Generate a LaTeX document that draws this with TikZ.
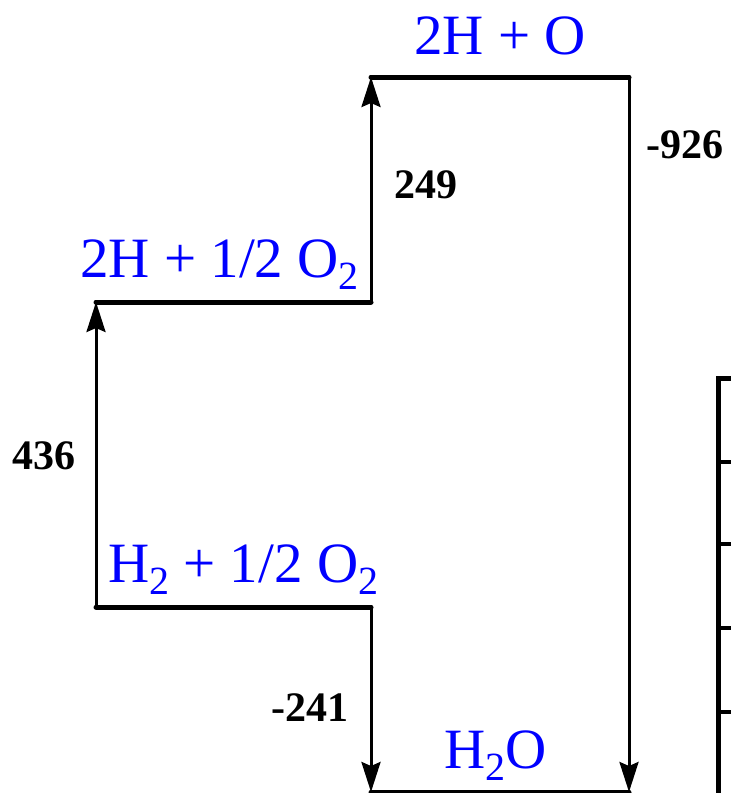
\documentclass[tikz,border=0pt]{standalone}
\usepackage{fontspec}
\setmainfont{Liberation Serif}
\usetikzlibrary{arrows.meta}
\newcommand\subtwo[1]{\raisebox{-12pt}{\fontsize{40}{40}\selectfont #1}}
\tikzset{
  level/.style={line width=5pt, line cap=round},
  trans/.style={line width=3pt, -{Stealth[length=30pt,width=19pt,inset=4pt]}},
  species/.style={text=blue, inner sep=0pt, anchor=base west, font=\fontsize{57}{57}\selectfont},
  energy/.style={inner sep=0pt, font=\bfseries\fontsize{42}{42}\selectfont},
  axisline/.style={line width=5pt},
  tick/.style={line width=4pt}
}
\begin{document}
\begin{tikzpicture}[x=1pt,y=-1pt]
\useasboundingbox (0,0) rectangle (731,793);
% level coordinates
\coordinate (A1) at (96,607);
\coordinate (A2) at (371,607);
\coordinate (B1) at (96,302);
\coordinate (B2) at (371,302);
\coordinate (C1) at (371,77);
\coordinate (C2) at (629,77);
\coordinate (D1) at (371,792);
\coordinate (D2) at (629,792);
% levels
\draw[level] (A1) -- (A2);
\draw[level] (B1) -- (B2);
\draw[level] (C1) -- (C2);
\draw[level] (D1) -- (D2);
% transitions
\draw[trans] (A1) -- (B1);
\draw[trans] (B2) -- (C1);
\draw[trans] (A2) -- (D1);
\draw[trans] (C2) -- (D2);
% species labels
\node[species] (sC) at (414,54) {2H + O};
\node[species] (sB) at (80,277) {2H + 1/2 O\subtwo{2}};
\node[species] (sA) at (108,582) {H\subtwo{2} + 1/2 O\subtwo{2}};
\node[species] (sD) at (444,768) {H\subtwo{2}O};
% energies
\node[energy] (e1) at (426,185) {249};
\node[energy] (e2) at (44,456) {436};
\node[energy] (e3) at (310,708) {-241};
\node[energy] (e4) at (685,145) {-926};
% axis fragment
\coordinate (T0) at (733,378);
\coordinate (T1) at (718,378);
\coordinate (T2) at (718,800);
\draw[axisline] (T0) -- (T1) -- (T2);
\foreach \yy/\nm in {462/k1,544/k2,628/k3,712/k4}{
  \coordinate (\nm a) at (718,\yy);
  \coordinate (\nm b) at (733,\yy);
  \draw[tick] (\nm a) -- (\nm b);
}
\end{tikzpicture}
\end{document}
